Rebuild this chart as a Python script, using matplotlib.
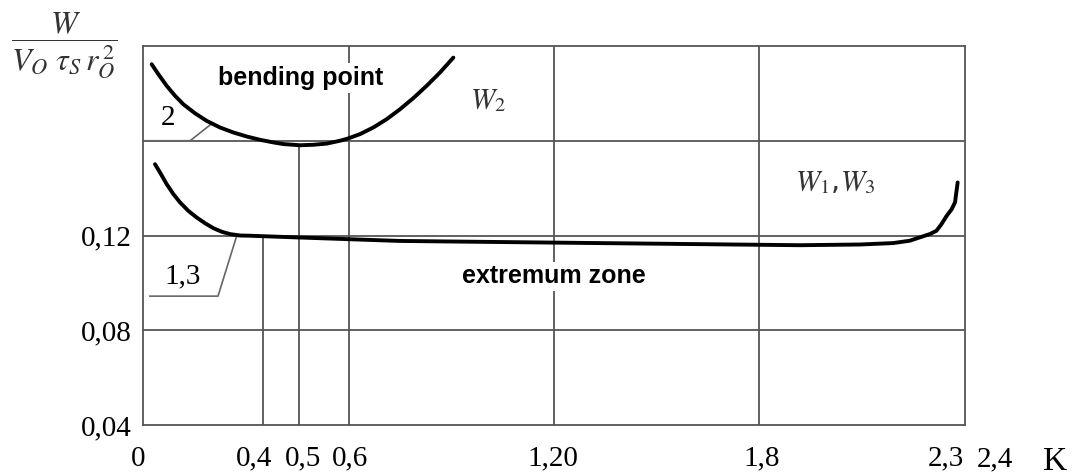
import numpy as np
import matplotlib.pyplot as plt
from matplotlib.transforms import ScaledTranslation

# Отметки оси K и их положение на схеме (ось нелинейная)
k_ticks = [0, 0.4, 0.5, 0.6, 1.2, 1.8, 2.3, 2.4]
k_pos = [143, 263, 299, 349, 554, 759, 946, 995]
k_labels = ['0', '0,4', '0,5', '0,6', '1,20', '1,8', '2,3']

y_ticks = [0.04, 0.08, 0.12]
y_labels = ['0,04', '0,08', '0,12']

# Кривая 2 (W2)
k2 = [0.0289, 0.0511, 0.0789, 0.1067, 0.1344, 0.1733, 0.2122, 0.2567,
      0.3011, 0.3456, 0.390, 0.4287, 0.4565, 0.502, 0.5287, 0.5553,
      0.582, 0.5987, 0.6322, 0.6712, 0.7102, 0.7493, 0.7883, 0.8273,
      0.8663, 0.9054]
w2 = [0.1923, 0.1881, 0.1832, 0.1790, 0.1754, 0.1716, 0.1684, 0.1656,
      0.1635, 0.1618, 0.1604, 0.1593, 0.1586, 0.1581, 0.1583, 0.1588,
      0.1600, 0.1610, 0.1628, 0.1656, 0.1691, 0.1733, 0.1780, 0.1832,
      0.1888, 0.1951]

# Кривая 1,3 (W1, W3)
k13 = [0.040, 0.0567, 0.0789, 0.1011, 0.1233, 0.1511, 0.1789, 0.2067,
       0.2344, 0.2622, 0.290, 0.3233, 0.3567, 0.4935, 0.749, 1.2, 1.91,
       2.070, 2.1586, 2.2032, 2.2299, 2.2567, 2.2745, 2.2879, 2.3014,
       2.3116, 2.3184, 2.3238]
w13 = [0.1501, 0.1466, 0.1417, 0.1375, 0.1340, 0.1304, 0.1276, 0.1252,
       0.1231, 0.1216, 0.1206, 0.1200, 0.1199, 0.1192, 0.1177, 0.1170,
       0.1159, 0.1162, 0.1168, 0.1178, 0.1192, 0.1206, 0.1220, 0.1248,
       0.1283, 0.1311, 0.1340, 0.1424]


def fwd(x):
    return np.interp(x, k_ticks, k_pos)


def inv(p):
    return np.interp(p, k_pos, k_ticks)


plt.rcParams['mathtext.fontset'] = 'stix'
serif = 'Liberation Serif'
grid_c = '#555555'

fig = plt.figure(figsize=(10.75, 4.76), dpi=100)
ax = fig.add_axes([143 / 1075, 51 / 476, 822 / 1075, 379 / 476])
ax.set_xscale('function', functions=(fwd, inv))
ax.set_xlim(0, inv(965))
ax.set_ylim(0.04, 0.20)

# Сетка
for y in [0.08, 0.12, 0.16]:
    ax.axhline(y, color=grid_c, lw=1.3, zorder=1)
for x in [0.6, 1.2, 1.8]:
    ax.axvline(x, color=grid_c, lw=1.3, zorder=1)
# укороченные вертикали
ax.plot([0.4, 0.4], [0.04, 0.1195], color=grid_c, lw=1.3, zorder=1)
ax.plot([0.5, 0.5], [0.04, 0.1581], color=grid_c, lw=1.3, zorder=1)

for s in ax.spines.values():
    s.set_color(grid_c)
    s.set_linewidth(1.3)

# Кривые
ax.plot(k2, w2, color='black', lw=2.8, solid_capstyle='round',
        solid_joinstyle='round', zorder=4)
ax.plot(k13, w13, color='black', lw=2.8, solid_capstyle='round',
        solid_joinstyle='round', zorder=4)

# Выноски
ax.plot([0.007, 0.157, 0.229], [0.1600, 0.1600, 0.1672], color='#666666', lw=1.2, zorder=3)
ax.plot([0.023, 0.25, 0.312], [0.0944, 0.0944, 0.1197], color='#666666', lw=1.2, zorder=3)
ax.text(0.083, 0.1697, '2', fontsize=21, family=serif, ha='center', va='center')
ax.text(0.133, 0.1027, '1,3', fontsize=21, family=serif, ha='center', va='center')

# Подписи
box = dict(facecolor='white', edgecolor='none', pad=2)
ax.text(0.504, 0.1865, 'bending point', fontsize=18, fontweight='bold',
        family='Liberation Sans', ha='center', va='center', bbox=box, zorder=3)
ax.text(1.2, 0.1027, 'extremum zone', fontsize=18, fontweight='bold',
        family='Liberation Sans', ha='center', va='center', bbox=box, zorder=3)
ax.text(1.007, 0.1773, r'$W_2$', fontsize=21, color='#333333', ha='center', va='center')
ax.text(2.003, 0.1427, r'$W_1$,$W_3$', fontsize=21, color='#333333', ha='center', va='center')

# Оси
ax.set_xticks(k_ticks[:-1])
ax.set_xticklabels(k_labels, fontsize=21, family=serif)
ax.set_yticks(y_ticks)
ax.set_yticklabels(y_labels, fontsize=21, family=serif)
ax.tick_params(axis='x', length=0, pad=15)
ax.tick_params(axis='y', length=0, pad=8)

# небольшие сдвиги подписей, как на схеме
dx = [-5, -9, 4, 1, -1, 3, 0]
for lab, d in zip(ax.get_xticklabels(), dx):
    lab.set_transform(lab.get_transform() + ScaledTranslation(d / 100, 0, fig.dpi_scale_trans))

fig.text(995 / 1075, 1 - 446 / 476, '2,4', fontsize=21, family=serif,
         ha='center', va='top')
fig.text(1055 / 1075, 1 - 462 / 476, 'K', fontsize=24, family=serif,
         ha='center', va='center')
fig.text(64 / 1075, 1 - 46 / 476, r'$\dfrac{W}{V_O\ \tau_S\,r_O^{\,2}}$',
         fontsize=23, color='#333333', ha='center', va='center')

fig.savefig('out.png', dpi=100)
